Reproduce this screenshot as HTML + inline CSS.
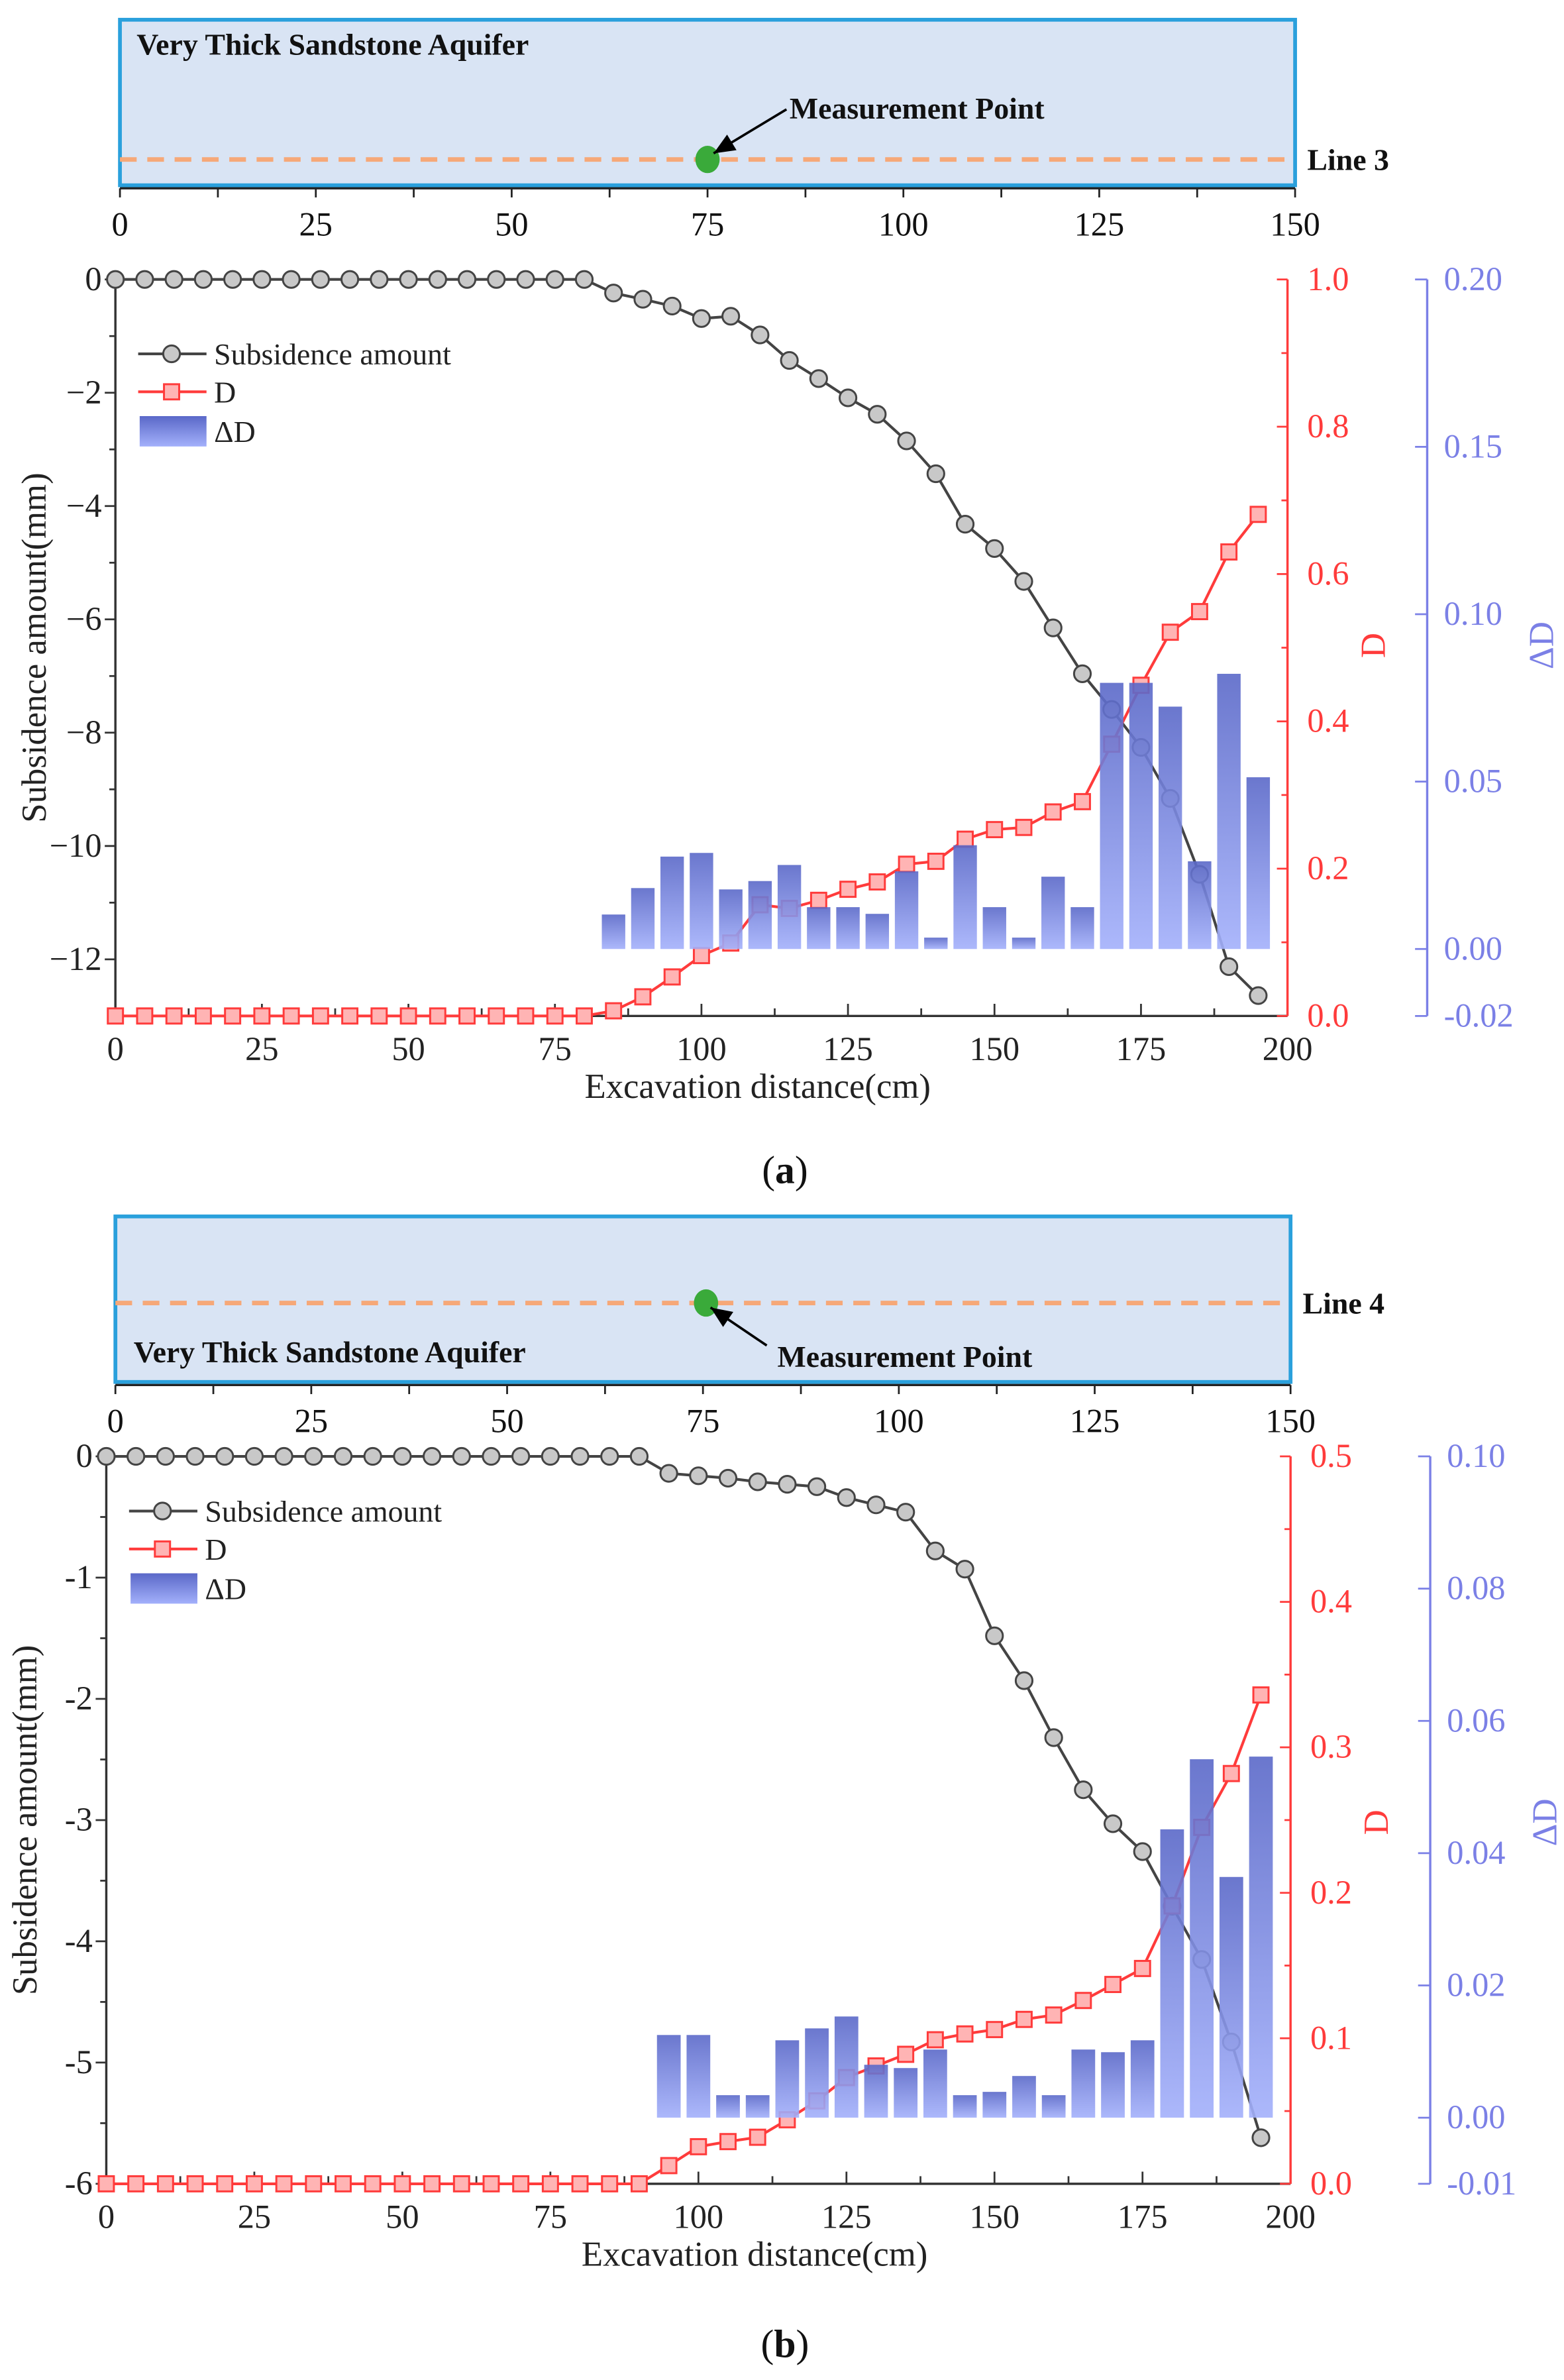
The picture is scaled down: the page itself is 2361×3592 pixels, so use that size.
<!DOCTYPE html>
<html><head><meta charset="utf-8"><style>
html,body{margin:0;padding:0;background:#fff;}
svg{display:block;font-family:"Liberation Serif",serif;}
svg text{font-family:"Liberation Serif",serif;}
</style></head>
<body>
<svg id="fig" width="2361" height="3592" viewBox="0 0 1030.1 1567.2" font-family="Liberation Serif, serif" xmlns="http://www.w3.org/2000/svg">
<defs>
<linearGradient id="barGrad" x1="0" y1="0" x2="0" y2="1">
<stop offset="0" stop-color="#5a68c8"/><stop offset="1" stop-color="#a3b0fb"/>
</linearGradient>
</defs>
</svg>
<script>
const distances = [0,5,10,15,20,25,30,35,40,45,50,55,60,65,70,75,80,85,90,95,100,105,110,115,120,125,130,135,140,145,150,155,160,165,170,175,180,185,190,195];
const subsidenceA = [0,0,0,0,0,0,0,0,0,0,0,0,0,0,0,0,0,-0.24,-0.35,-0.47,-0.69,-0.65,-0.98,-1.43,-1.75,-2.09,-2.38,-2.85,-3.43,-4.32,-4.75,-5.33,-6.15,-6.96,-7.59,-8.26,-9.16,-10.50,-12.13,-12.64];
const dA = [0,0,0,0,0,0,0,0,0,0,0,0,0,0,0,0,0,0.007,0.026,0.053,0.082,0.099,0.151,0.146,0.157,0.172,0.182,0.206,0.210,0.240,0.253,0.256,0.277,0.291,0.369,0.449,0.521,0.549,0.630,0.681];
const barDistA = [85,90,95,100,105,110,115,120,125,130,135,140,145,150,155,160,165,170,175,180,185,190,195];
const deltaDA = [0.0103,0.0182,0.0276,0.0287,0.0178,0.0203,0.0251,0.0125,0.0125,0.0105,0.0232,0.0034,0.031,0.0125,0.0034,0.0216,0.0125,0.0795,0.0795,0.0724,0.0262,0.0822,0.0513];
const subsidenceB = [0,0,0,0,0,0,0,0,0,0,0,0,0,0,0,0,0,0,0,-0.14,-0.16,-0.18,-0.21,-0.23,-0.25,-0.34,-0.40,-0.46,-0.78,-0.93,-1.48,-1.85,-2.32,-2.75,-3.03,-3.26,-3.71,-4.15,-4.83,-5.62];
const dB = [0,0,0,0,0,0,0,0,0,0,0,0,0,0,0,0,0,0,0,0.0125,0.0255,0.029,0.032,0.044,0.057,0.073,0.081,0.089,0.099,0.103,0.106,0.113,0.116,0.126,0.137,0.148,0.191,0.245,0.282,0.336];
const barDistB = [95,100,105,110,115,120,125,130,135,140,145,150,155,160,165,170,175,180,185,190,195];
const deltaDB = [0.0125,0.0125,0.0034,0.0034,0.0117,0.0135,0.0153,0.008,0.0075,0.0103,0.0034,0.0039,0.0063,0.0034,0.0103,0.0099,0.0117,0.0436,0.0542,0.0364,0.0546];
const xTicks = [0,25,50,75,100,125,150,175,200];
const topTicks = [0,25,50,75,100,125,150];
const leftTicksA = [0,-2,-4,-6,-8,-10,-12];
const leftLabelsA = ["0","\u22122","\u22124","\u22126","\u22128","\u221210","\u221212"];
const dTicksA = [0,0.2,0.4,0.6,0.8,1.0];
const ddTicksA = [-0.02,0,0.05,0.10,0.15,0.20];
const ddLabelsA = ["-0.02","0.00","0.05","0.10","0.15","0.20"];
const leftTicksB = [0,-1,-2,-3,-4,-5,-6];
const leftLabelsB = ["0","-1","-2","-3","-4","-5","-6"];
const dTicksB = [0,0.1,0.2,0.3,0.4,0.5];
const ddTicksB = [-0.01,0,0.02,0.04,0.06,0.08,0.10];
const ddLabelsB = ["-0.01","0.00","0.02","0.04","0.06","0.08","0.10"];

const NS = "http://www.w3.org/2000/svg";
const svg = document.getElementById('fig');
const FF = '"Liberation Serif", serif';
function mk(tag, attrs, parent, txt){
  const e = document.createElementNS(NS, tag);
  for (const k in attrs) e.setAttribute(k, attrs[k]);
  if (tag === 'text') e.setAttribute('font-family', FF);
  if (txt !== undefined) e.textContent = txt;
  (parent || svg).appendChild(e);
  return e;
}
function lin(d0,d1,r0,r1){ return v => r0 + (v-d0)/(d1-d0)*(r1-r0); }

function panel(p){
  const g = mk('g', {});
  
  
  const box = mk('rect', {x:p.boxX0, y:p.boxY0, width:p.boxX1-p.boxX0, height:p.boxY1-p.boxY0, fill:'#d9e4f4', stroke:'#2aa0dc', 'stroke-width':2.5}, g);
  
  
  const dl = mk('line', {x1:p.boxX0, x2:p.boxX1, y1:p.lineY, y2:p.lineY, stroke:'#f6a878', 'stroke-width':3, 'stroke-dasharray':'11 7'}, g);
  
  
  const tx = lin(0,150,p.boxX0,p.boxX1);
  const ta = mk('line', {x1:p.boxX0, x2:p.boxX1, y1:p.boxY1+2, y2:p.boxY1+2, stroke:'#222', 'stroke-width':1.5}, g);
  
  
  for (let v=0; v<=150; v+=12.5){
    mk('line', {x1:tx(v), x2:tx(v), y1:p.boxY1+2, y2:p.boxY1+8, stroke:'#222','stroke-width':1.2}, g);
  }
  topTicks.forEach(v=>{
    const t = mk('text', {x:tx(v), y:p.boxY1+33, 'font-size':22, 'text-anchor':'middle', fill:'#111'}, g, String(v));
    
    
  });
  const dot = mk('ellipse', {cx:p.dotX, cy:p.lineY, rx:8, ry:9, fill:'#3aaa3a'}, g);
  
  
  mk('line', {x1:p.arrowFrom[0], y1:p.arrowFrom[1], x2:p.arrowTo[0], y2:p.arrowTo[1], stroke:'#000','stroke-width':1.6}, g);
  const ang = Math.atan2(p.arrowTo[1]-p.arrowFrom[1], p.arrowTo[0]-p.arrowFrom[0]);
  const ax=p.arrowTo[0], ay=p.arrowTo[1], L=14, W=6;
  const bx=ax-L*Math.cos(ang), by=ay-L*Math.sin(ang);
  mk('polygon', {points:`${ax},${ay} ${bx-W*Math.sin(ang)},${by+W*Math.cos(ang)} ${bx+W*Math.sin(ang)},${by-W*Math.cos(ang)}`, fill:'#000'}, g);
  const t1 = mk('text', {x:p.aqText[0], y:p.aqText[1], 'font-size':20, 'font-weight':'bold', fill:'#111'}, g, 'Very Thick Sandstone Aquifer');
  
  
  const t2 = mk('text', {x:p.mpText[0], y:p.mpText[1], 'font-size':20, 'font-weight':'bold', fill:'#111'}, g, 'Measurement Point');
  
  
  const t3 = mk('text', {x:p.boxX1+8, y:p.lineY+7, 'font-size':20, 'font-weight':'bold', fill:'#111'}, g, p.lineName);
  
  

  const X = lin(0,200,p.px0,p.px1);
  const Y = lin(0,p.sMin,p.py0,p.py1);
  const YD = lin(0,p.dMax,p.py1,p.py0);
  const YDD = lin(p.ddMin,p.ddMax,p.py1,p.py0);
  const la = mk('line', {x1:p.px0, x2:p.px0, y1:p.py0, y2:p.py1, stroke:'#333','stroke-width':1.5}, g);
  
  
  const step = p.leftTicks[0]-p.leftTicks[1];
  for (let v=0; v>=p.sMin-1e-9; v-=step/2){
    mk('line', {x1:p.px0, x2:p.px0-(Math.abs(v/step-Math.round(v/step))<0.01?7:4), y1:Y(v), y2:Y(v), stroke:'#333','stroke-width':1.2}, g);
  }
  p.leftTicks.forEach((v,i)=>{
    const t = mk('text', {x:p.px0-9, y:Y(v)+7, 'font-size':22, 'text-anchor':'end', fill:'#222'}, g, p.leftLabels[i]);
    
    
  });
  const ba = mk('line', {x1:p.px0, x2:p.px1, y1:p.py1, y2:p.py1, stroke:'#333','stroke-width':1.5}, g);
  
  
  for (let v=0; v<=200; v+=12.5){
    mk('line', {x1:X(v), x2:X(v), y1:p.py1, y2:p.py1-(v%25===0?8:5), stroke:'#333','stroke-width':1.2}, g);
  }
  xTicks.forEach(v=>{
    const t = mk('text', {x:X(v), y:p.py1+29, 'font-size':22, 'text-anchor':'middle', fill:'#222'}, g, String(v));
    
    
  });
  const xt = mk('text', {x:(p.px0+p.px1)/2+37, y:p.py1+54, 'font-size':23, 'text-anchor':'middle', fill:'#222'}, g, 'Excavation distance(cm)');
  
  
  const yt = mk('text', {x:0, y:0, 'font-size':23, 'text-anchor':'middle', fill:'#222', transform:`translate(${p.px0-46},${(p.py0+p.py1)/2}) rotate(-90)`}, g, 'Subsidence amount(mm)');
  
  
  const red = '#ff3b3b';
  const ra = mk('line', {x1:p.px1, x2:p.px1, y1:p.py0, y2:p.py1, stroke:red,'stroke-width':1.5}, g);
  
  
  const dstep = p.dTicks[1]-p.dTicks[0];
  for (let v=0; v<=p.dMax+1e-9; v+=dstep/2){
    mk('line', {x1:p.px1, x2:p.px1-(Math.abs(v/dstep-Math.round(v/dstep))<0.01?7:4), y1:YD(v), y2:YD(v), stroke:red,'stroke-width':1.2}, g);
  }
  p.dTicks.forEach(v=>{
    const t = mk('text', {x:p.px1+13, y:YD(v)+7, 'font-size':22, fill:red}, g, v.toFixed(1));
    
    
  });
  const dt = mk('text', {x:0,y:0,'font-size':23,'text-anchor':'middle',fill:red,transform:`translate(${p.px1+64},${p.dTitleY}) rotate(-90)`}, g, 'D');
  
  
  const blue = '#7b80e6';
  const bax = p.px1+92;
  const bl = mk('line', {x1:bax, x2:bax, y1:p.py0, y2:p.py1, stroke:blue,'stroke-width':1.5}, g);
  
  
  p.ddTicks.forEach((v,i)=>{
    mk('line', {x1:bax, x2:bax-8, y1:YDD(v), y2:YDD(v), stroke:blue,'stroke-width':1.2}, g);
    const t = mk('text', {x:bax+11, y:YDD(v)+7, 'font-size':22, fill:blue}, g, p.ddLabels[i]);
    
    
  });
  const ddt = mk('text', {x:0,y:0,'font-size':23,'text-anchor':'middle',fill:blue,transform:`translate(${bax+83},${p.dTitleY}) rotate(-90)`}, g, '\u0394D');
  
  

  const sp = distances.map((d,i)=>`${X(d)},${Y(p.sub[i])}`).join(' ');
  const sl = mk('polyline', {points:sp, fill:'none', stroke:'#444', 'stroke-width':1.8}, g);
  
  
  distances.forEach((d,i)=>{
    const c = mk('circle', {cx:X(d), cy:Y(p.sub[i]), r:5.5, fill:'#c8c8c8', stroke:'#444','stroke-width':1.3}, g);
    
    
  });
  const dp = distances.map((d,i)=>`${X(d)},${YD(p.d[i])}`).join(' ');
  const dln = mk('polyline', {points:dp, fill:'none', stroke:red, 'stroke-width':1.8}, g);
  
  
  distances.forEach((d,i)=>{
    const s = mk('rect', {x:X(d)-5, y:YD(p.d[i])-5, width:10, height:10, fill:'#ffb4b4', stroke:red,'stroke-width':1.3}, g);
    
    
  });
  const bw = (X(5)-X(0))*0.8;
  p.barDist.forEach((d,i)=>{
    const y0 = YDD(0), y1 = YDD(p.dd[i]);
    const b = mk('rect', {x:X(d)-bw/2, y:Math.min(y0,y1), width:bw, height:Math.abs(y0-y1), fill:'url(#barGrad)', opacity:0.9}, g);
    
    
  });
  const lx = p.px0+15, ly = p.legY;
  mk('line', {x1:lx, x2:lx+45, y1:ly, y2:ly, stroke:'#444','stroke-width':1.8}, g);
  mk('circle', {cx:lx+22, cy:ly, r:5.5, fill:'#c8c8c8', stroke:'#444','stroke-width':1.3}, g);
  const l1 = mk('text', {x:lx+50, y:ly+7, 'font-size':20, fill:'#222'}, g, 'Subsidence amount');
  
  
  mk('line', {x1:lx, x2:lx+45, y1:ly+25, y2:ly+25, stroke:red,'stroke-width':1.8}, g);
  mk('rect', {x:lx+17, y:ly+20, width:10, height:10, fill:'#ffb4b4', stroke:red,'stroke-width':1.3}, g);
  const l2 = mk('text', {x:lx+50, y:ly+32, 'font-size':20, fill:'#222'}, g, 'D');
  
  
  mk('rect', {x:lx+1, y:ly+41, width:44, height:20, fill:'url(#barGrad)'}, g);
  const l3 = mk('text', {x:lx+50, y:ly+58, 'font-size':20, fill:'#222'}, g, '\u0394D');
  
  
  const cap = mk('text', {x:517, y:p.capY, 'font-size':26, 'text-anchor':'middle', fill:'#111'}, g);
  
  
  mk('tspan', {}, cap, '(');
  mk('tspan', {'font-weight':'bold'}, cap, p.caption);
  mk('tspan', {}, cap, ')');
}

panel({name:'panel-a', boxX0:79, boxX1:853, boxY0:13, boxY1:122, lineY:105, dotX:466, lineName:'Line 3',
  arrowFrom:[518,72], arrowTo:[470,101], aqText:[90,36], mpText:[520,78],
  px0:76, px1:848, py0:184, py1:669, sMin:-13, dMax:1.0, ddMin:-0.02, ddMax:0.20,
  leftTicks:leftTicksA, leftLabels:leftLabelsA, dTicks:dTicksA, ddTicks:ddTicksA, ddLabels:ddLabelsA,
  sub:subsidenceA, d:dA, barDist:barDistA, dd:deltaDA, dTitleY:425, legY:233, capY:779, caption:'a'});
panel({name:'panel-b', boxX0:76, boxX1:850, boxY0:801, boxY1:910, lineY:858, dotX:465, lineName:'Line 4',
  arrowFrom:[505,886], arrowTo:[468,861], aqText:[88,897], mpText:[512,900],
  px0:70, px1:850, py0:959, py1:1438, sMin:-6, dMax:0.5, ddMin:-0.01, ddMax:0.10,
  leftTicks:leftTicksB, leftLabels:leftLabelsB, dTicks:dTicksB, ddTicks:ddTicksB, ddLabels:ddLabelsB,
  sub:subsidenceB, d:dB, barDist:barDistB, dd:deltaDB, dTitleY:1200, legY:995, capY:1552, caption:'b'});
</script>
</body></html>
